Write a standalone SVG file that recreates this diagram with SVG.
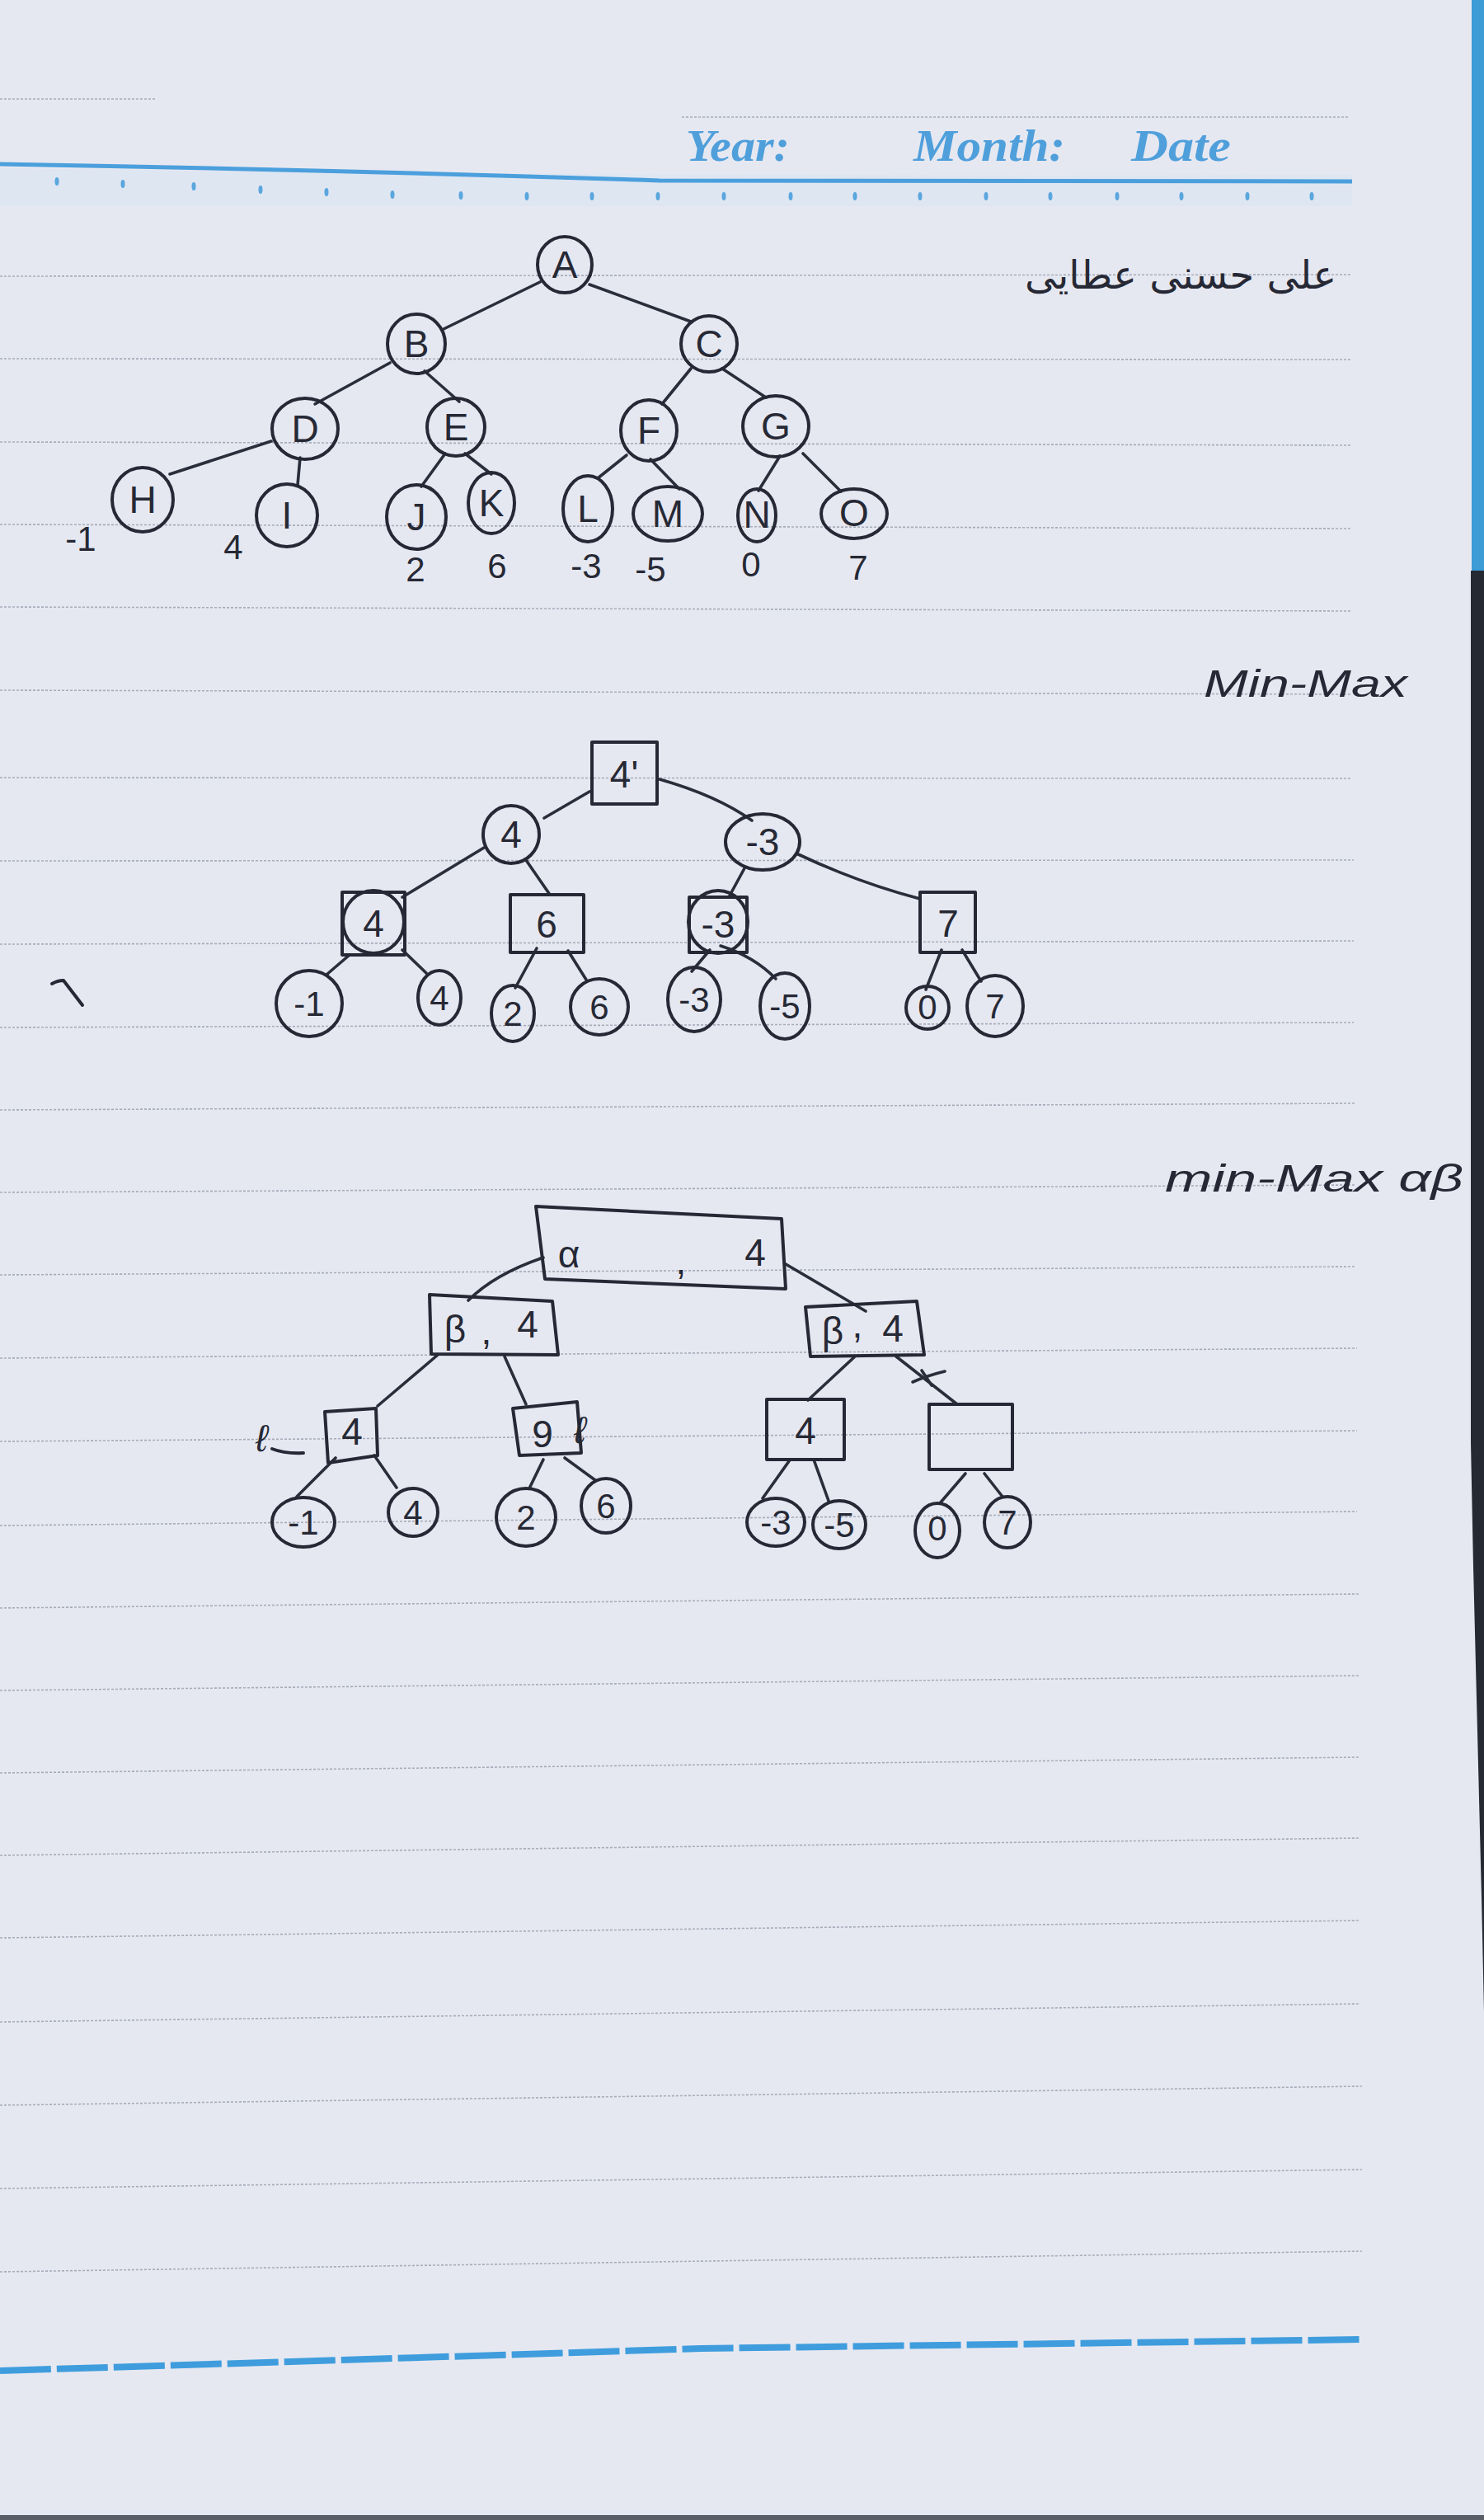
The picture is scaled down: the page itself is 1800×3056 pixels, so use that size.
<svg xmlns="http://www.w3.org/2000/svg" width="1800" height="3056" viewBox="0 0 1800 3056">
<defs>
<style>
.rule{stroke:#a7acba;stroke-width:1.6;stroke-dasharray:3 2;fill:none}
.ink{fill:none;stroke:#262935;stroke-width:4;stroke-linecap:round;stroke-linejoin:round}
.edge{fill:none;stroke:#2a2d3a;stroke-width:3.6;stroke-linecap:round}
.lbl{font-family:"Liberation Sans","DejaVu Sans",sans-serif;fill:#262935;text-anchor:middle;font-size:46px}
.val{font-family:"Liberation Sans","DejaVu Sans",sans-serif;fill:#262935;text-anchor:middle;font-size:42px}
.hand{font-family:"Liberation Sans","DejaVu Sans",sans-serif;fill:#262935;font-style:italic;font-size:46px}
.hdr{font-family:"Liberation Serif",serif;font-style:italic;font-weight:bold;fill:#4f9fdb;font-size:54px}
.dot{fill:#5aa6de}
</style>
</defs>
<rect x="0" y="0" width="1800" height="3056" fill="#e6e8f1"/>
<!-- right edge -->
<rect x="1785" y="0" width="15" height="692" fill="#3d9bd6"/>
<path d="M1784,692 L1800,692 L1800,2440 L1797,2300 L1792,2100 L1787,1900 L1784,1750 Z" fill="#252932"/>
<rect x="0" y="3050" width="1800" height="6" fill="#5a5e68"/>
<!-- ruled lines -->
<g id="rules">
<line class="rule" x1="0" y1="120" x2="190" y2="120"/>
<line class="rule" x1="827" y1="142" x2="1636" y2="142"/>
<line class="rule" x1="0" y1="335" x2="1638" y2="333"/>
<line class="rule" x1="0" y1="435" x2="1638" y2="436"/>
<line class="rule" x1="0" y1="536" x2="1638" y2="540"/>
<line class="rule" x1="0" y1="636" x2="1638" y2="641"/>
<line class="rule" x1="0" y1="736" x2="1640" y2="741"/>
<line class="rule" x1="0" y1="837" x2="1640" y2="842"/>
<line class="rule" x1="0" y1="943" x2="1640" y2="944"/>
<line class="rule" x1="0" y1="1044" x2="1642" y2="1043"/>
<line class="rule" x1="0" y1="1145" x2="1642" y2="1141"/>
<line class="rule" x1="0" y1="1246" x2="1642" y2="1240"/>
<line class="rule" x1="0" y1="1346" x2="1644" y2="1338"/>
<line class="rule" x1="0" y1="1446" x2="1644" y2="1437"/>
<line class="rule" x1="0" y1="1546" x2="1644" y2="1536"/>
<line class="rule" x1="0" y1="1647" x2="1646" y2="1635"/>
<line class="rule" x1="0" y1="1748" x2="1646" y2="1735"/>
<line class="rule" x1="0" y1="1850" x2="1646" y2="1833"/>
<line class="rule" x1="0" y1="1950" x2="1648" y2="1933"/>
<line class="rule" x1="0" y1="2050" x2="1648" y2="2032"/>
<line class="rule" x1="0" y1="2150" x2="1648" y2="2131"/>
<line class="rule" x1="0" y1="2250" x2="1650" y2="2229"/>
<line class="rule" x1="0" y1="2350" x2="1650" y2="2329"/>
<line class="rule" x1="0" y1="2452" x2="1650" y2="2430"/>
<line class="rule" x1="0" y1="2553" x2="1652" y2="2530"/>
<line class="rule" x1="0" y1="2654" x2="1652" y2="2631"/>
<line class="rule" x1="0" y1="2755" x2="1652" y2="2730"/>
</g>
<!-- header -->
<g id="header">
<path d="M0,204 L0,250 L1640,250 L1640,212 Q800,215 0,204 Z" fill="#d8e5f3" opacity="0.6"/>
<path d="M0,199 Q400,206 800,219 L1640,220" fill="none" stroke="#4b9fdc" stroke-width="5"/>
<g class="dot">
<ellipse cx="69" cy="220" rx="2.5" ry="5"/><ellipse cx="149" cy="223" rx="2.5" ry="5"/><ellipse cx="235" cy="226" rx="2.5" ry="5"/><ellipse cx="316" cy="230" rx="2.5" ry="5"/><ellipse cx="396" cy="233" rx="2.5" ry="5"/><ellipse cx="476" cy="236" rx="2.5" ry="5"/><ellipse cx="559" cy="237" rx="2.5" ry="5"/><ellipse cx="639" cy="238" rx="2.5" ry="5"/><ellipse cx="718" cy="238" rx="2.5" ry="5"/><ellipse cx="798" cy="238" rx="2.5" ry="5"/><ellipse cx="878" cy="238" rx="2.5" ry="5"/><ellipse cx="959" cy="238" rx="2.5" ry="5"/><ellipse cx="1037" cy="238" rx="2.5" ry="5"/><ellipse cx="1116" cy="238" rx="2.5" ry="5"/><ellipse cx="1196" cy="238" rx="2.5" ry="5"/><ellipse cx="1274" cy="238" rx="2.5" ry="5"/><ellipse cx="1355" cy="238" rx="2.5" ry="5"/><ellipse cx="1433" cy="238" rx="2.5" ry="5"/><ellipse cx="1513" cy="238" rx="2.5" ry="5"/><ellipse cx="1591" cy="238" rx="2.5" ry="5"/>
</g>
<text class="hdr" x="832" y="195" textLength="126" lengthAdjust="spacingAndGlyphs">Year:</text>
<text class="hdr" x="1108" y="195" textLength="184" lengthAdjust="spacingAndGlyphs">Month:</text>
<text class="hdr" x="1372" y="195" textLength="121" lengthAdjust="spacingAndGlyphs">Date</text>
</g>
<!-- bottom blue dashed line -->
<path d="M0,2875 Q420,2862 850,2848 L1653,2837" fill="none" stroke="#3f9ddd" stroke-width="8" stroke-dasharray="62 7"/>
<!-- titles -->
<text id="name" x="1432" y="350" font-family="DejaVu Sans, sans-serif" font-size="48" fill="#262935" text-anchor="middle">علی حسنی عطایی</text>
<text id="title-minmax" class="hand" x="1460" y="845" textLength="247" lengthAdjust="spacingAndGlyphs">Min-Max</text>
<text id="title-ab" class="hand" x="1413" y="1445" textLength="362" lengthAdjust="spacingAndGlyphs">min-Max αβ</text>
<path id="mark" class="ink" d="M63,1193 Q70,1189 77,1189 L100,1219" stroke-width="2.5"/>

<!-- connectors -->
<g id="connectors">
<!-- tree 1 -->
<path class="edge" d="M655,342 L536,400"/>
<path class="edge" d="M715,345 L838,390"/>
<path class="edge" d="M473,440 L382,490"/>
<path class="edge" d="M515,450 L557,487"/>
<path class="edge" d="M838,447 L803,490"/>
<path class="edge" d="M876,447 L929,482"/>
<path class="edge" d="M329,535 L206,575"/>
<path class="edge" d="M364,555 L361,588"/>
<path class="edge" d="M540,550 L511,590"/>
<path class="edge" d="M564,550 L596,575"/>
<path class="edge" d="M760,552 L725,580"/>
<path class="edge" d="M789,557 L824,593"/>
<path class="edge" d="M946,553 L920,595"/>
<path class="edge" d="M974,550 L1020,596"/>
<!-- tree 2 -->
<path class="edge" d="M715,960 L660,992"/>
<path class="edge" d="M800,945 Q870,965 912,995"/>
<path class="edge" d="M587,1028 L488,1088"/>
<path class="edge" d="M638,1043 L667,1085"/>
<path class="edge" d="M903,1053 L884,1088"/>
<path class="edge" d="M966,1035 Q1040,1070 1116,1090"/>
<path class="edge" d="M424,1158 L396,1182"/>
<path class="edge" d="M488,1152 L517,1180"/>
<path class="edge" d="M651,1150 L625,1198"/>
<path class="edge" d="M689,1153 L711,1188"/>
<path class="edge" d="M861,1152 L839,1178"/>
<path class="edge" d="M874,1147 Q915,1160 941,1187"/>
<path class="edge" d="M1142,1152 L1123,1200"/>
<path class="edge" d="M1167,1152 L1190,1190"/>
<!-- tree 3 -->
<path class="edge" d="M659,1525 Q600,1545 568,1577"/>
<path class="edge" d="M953,1533 L1050,1590"/>
<path class="edge" d="M531,1643 L458,1705"/>
<path class="edge" d="M612,1645 L638,1703"/>
<path class="edge" d="M1037,1645 L980,1698"/>
<path class="edge" d="M1087,1645 L1161,1703"/>
<path class="edge" d="M407,1768 L360,1815"/>
<path class="edge" d="M454,1765 L481,1804"/>
<path class="edge" d="M659,1770 L642,1805"/>
<path class="edge" d="M685,1768 L722,1795"/>
<path class="edge" d="M957,1772 L925,1817"/>
<path class="edge" d="M987,1770 L1005,1820"/>
<path class="edge" d="M1171,1787 L1140,1823"/>
<path class="edge" d="M1194,1787 L1216,1815"/>
<path class="edge" d="M1107,1676 Q1125,1668 1146,1663 M1118,1662 L1130,1680"/>
</g>

<!-- tree 1 nodes -->
<g id="t1-A"><ellipse class="ink" cx="685" cy="321" rx="33" ry="34"/><text class="lbl" x="685" y="337">A</text></g>
<g id="t1-B"><ellipse class="ink" cx="505" cy="417" rx="35" ry="36"/><text class="lbl" x="505" y="433">B</text></g>
<g id="t1-C"><ellipse class="ink" cx="860" cy="417" rx="34" ry="34"/><text class="lbl" x="860" y="433">C</text></g>
<g id="t1-D"><ellipse class="ink" cx="370" cy="520" rx="40" ry="37"/><text class="lbl" x="370" y="536">D</text></g>
<g id="t1-E"><ellipse class="ink" cx="553" cy="518" rx="35" ry="35"/><text class="lbl" x="553" y="534">E</text></g>
<g id="t1-F"><ellipse class="ink" cx="787" cy="522" rx="34" ry="37"/><text class="lbl" x="787" y="538">F</text></g>
<g id="t1-G"><ellipse class="ink" cx="941" cy="517" rx="40" ry="37"/><text class="lbl" x="941" y="533">G</text></g>
<g id="t1-H"><ellipse class="ink" cx="173" cy="606" rx="37" ry="39"/><text class="lbl" x="173" y="622">H</text><text class="val" x="98" y="668">-1</text></g>
<g id="t1-I"><ellipse class="ink" cx="348" cy="625" rx="37" ry="38"/><text class="lbl" x="348" y="641">I</text><text class="val" x="283" y="678">4</text></g>
<g id="t1-J"><ellipse class="ink" cx="505" cy="627" rx="36" ry="39"/><text class="lbl" x="505" y="643">J</text><text class="val" x="504" y="705">2</text></g>
<g id="t1-K"><ellipse class="ink" cx="596" cy="610" rx="28" ry="37"/><text class="lbl" x="596" y="626">K</text><text class="val" x="603" y="701">6</text></g>
<g id="t1-L"><ellipse class="ink" cx="713" cy="617" rx="30" ry="40"/><text class="lbl" x="713" y="633">L</text><text class="val" x="711" y="701">-3</text></g>
<g id="t1-M"><ellipse class="ink" cx="810" cy="623" rx="42" ry="33"/><text class="lbl" x="810" y="639">M</text><text class="val" x="789" y="705">-5</text></g>
<g id="t1-N"><ellipse class="ink" cx="918" cy="625" rx="23" ry="32"/><text class="lbl" x="918" y="640" font-size="36">N</text><text class="val" x="911" y="699" font-size="30">0</text></g>
<g id="t1-O"><ellipse class="ink" cx="1036" cy="623" rx="40" ry="30"/><text class="lbl" x="1036" y="638" font-size="40">O</text><text class="val" x="1041" y="703">7</text></g>

<!-- tree 2 nodes -->
<g id="t2-root"><rect class="ink" x="718" y="900" width="79" height="75"/><text class="lbl" x="757" y="955">4'</text></g>
<g id="t2-l"><ellipse class="ink" cx="620" cy="1012" rx="34" ry="35"/><text class="lbl" x="620" y="1028">4</text></g>
<g id="t2-r"><ellipse class="ink" cx="925" cy="1021" rx="45" ry="34"/><text class="lbl" x="925" y="1037">-3</text></g>
<g id="t2-ll"><rect class="ink" x="415" y="1082" width="76" height="76"/><ellipse class="ink" cx="453" cy="1118" rx="37" ry="38" stroke-width="2.8"/><text class="lbl" x="453" y="1136">4</text></g>
<g id="t2-lr"><rect class="ink" x="619" y="1085" width="89" height="70"/><text class="lbl" x="663" y="1137">6</text></g>
<g id="t2-rl"><rect class="ink" x="836" y="1088" width="70" height="67"/><ellipse class="ink" cx="871" cy="1118" rx="36" ry="38" stroke-width="2.8"/><text class="lbl" x="871" y="1137">-3</text></g>
<g id="t2-rr"><rect class="ink" x="1116" y="1082" width="67" height="73"/><text class="lbl" x="1150" y="1136">7</text></g>
<g id="t2-a"><ellipse class="ink" cx="375" cy="1217" rx="40" ry="40"/><text class="val" x="375" y="1232">-1</text></g>
<g id="t2-b"><ellipse class="ink" cx="533" cy="1210" rx="26" ry="33"/><text class="val" x="533" y="1225">4</text></g>
<g id="t2-c"><ellipse class="ink" cx="622" cy="1229" rx="26" ry="34"/><text class="val" x="622" y="1244">2</text></g>
<g id="t2-d"><ellipse class="ink" cx="727" cy="1221" rx="35" ry="34"/><text class="val" x="727" y="1236">6</text></g>
<g id="t2-e"><ellipse class="ink" cx="842" cy="1212" rx="32" ry="39"/><text class="val" x="842" y="1227">-3</text></g>
<g id="t2-f"><ellipse class="ink" cx="952" cy="1220" rx="30" ry="40"/><text class="val" x="952" y="1235">-5</text></g>
<g id="t2-g"><ellipse class="ink" cx="1125" cy="1222" rx="26" ry="26"/><text class="val" x="1125" y="1236" font-size="36">0</text></g>
<g id="t2-h"><ellipse class="ink" cx="1207" cy="1220" rx="34" ry="37"/><text class="val" x="1207" y="1235">7</text></g>

<!-- tree 3 nodes -->
<g id="t3-root"><path class="ink" d="M650,1463 L948,1478 L953,1563 L661,1551 Z"/><text class="lbl" x="690" y="1537">α</text><text class="lbl" x="826" y="1545">,</text><text class="lbl" x="916" y="1535">4</text></g>
<g id="t3-l"><path class="ink" d="M521,1570 L670,1578 L677,1643 L523,1642 Z"/><text class="lbl" x="552" y="1628">β</text><text class="lbl" x="590" y="1630" font-size="34">,</text><text class="lbl" x="640" y="1622">4</text></g>
<g id="t3-r"><path class="ink" d="M977,1585 L1112,1578 L1121,1643 L983,1645 Z"/><text class="lbl" x="1010" y="1630">β</text><text class="lbl" x="1040" y="1622" font-size="30">,</text><text class="lbl" x="1083" y="1627">4</text></g>
<g id="t3-ll"><path class="ink" d="M394,1712 L456,1708 L458,1765 L398,1774 Z"/><text class="lbl" x="427" y="1752">4</text><text class="hand" x="310" y="1760" font-size="40">ℓ</text><path class="ink" d="M330,1757 Q345,1763 368,1762" stroke-width="3"/></g>
<g id="t3-lr"><path class="ink" d="M622,1708 L700,1700 L705,1762 L630,1765 Z"/><text class="lbl" x="658" y="1755">9</text><text class="hand" x="696" y="1750" font-size="30">ℓ</text></g>
<g id="t3-rl"><rect class="ink" x="930" y="1697" width="94" height="73"/><text class="lbl" x="977" y="1751">4</text></g>
<g id="t3-rr"><rect class="ink" x="1127" y="1703" width="101" height="79"/></g>
<g id="t3-a"><ellipse class="ink" cx="368" cy="1846" rx="38" ry="30"/><text class="val" x="368" y="1861">-1</text></g>
<g id="t3-b"><ellipse class="ink" cx="501" cy="1834" rx="30" ry="29"/><text class="val" x="501" y="1849">4</text></g>
<g id="t3-c"><ellipse class="ink" cx="638" cy="1840" rx="36" ry="35"/><text class="val" x="638" y="1855">2</text></g>
<g id="t3-d"><ellipse class="ink" cx="735" cy="1826" rx="30" ry="33"/><text class="val" x="735" y="1841">6</text></g>
<g id="t3-e"><ellipse class="ink" cx="941" cy="1846" rx="35" ry="29"/><text class="val" x="941" y="1861">-3</text></g>
<g id="t3-f"><ellipse class="ink" cx="1018" cy="1849" rx="32" ry="29"/><text class="val" x="1018" y="1864">-5</text></g>
<g id="t3-g"><ellipse class="ink" cx="1137" cy="1856" rx="27" ry="33"/><text class="val" x="1137" y="1868" font-size="30">0</text></g>
<g id="t3-h"><ellipse class="ink" cx="1222" cy="1846" rx="28" ry="31"/><text class="val" x="1222" y="1861">7</text></g>
</svg>
